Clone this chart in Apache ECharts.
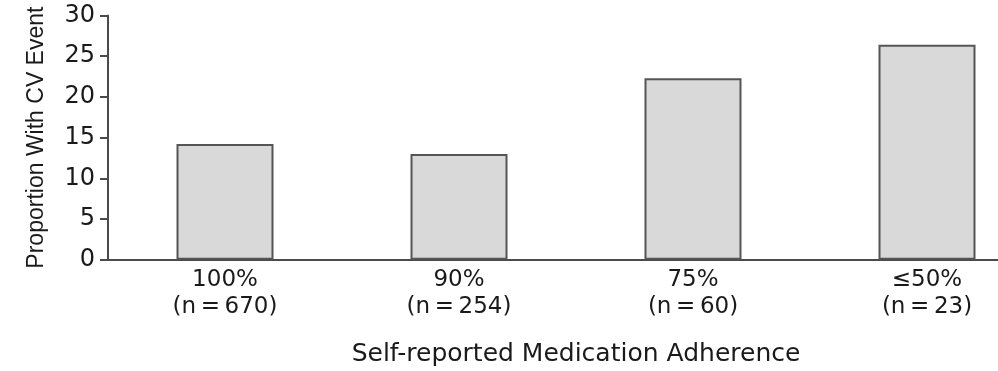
<!DOCTYPE html>
<html>
<head>
<meta charset="utf-8">
<script src="https://cdn.jsdelivr.net/npm/echarts@6/dist/echarts.min.js"></script>
<style>html,body{margin:0;padding:0;background:#fff;}#c{width:998px;height:371px;}</style>
</head>
<body>
<div id="c"></div>
<script>
const categories = ['100%', '90%', '75%', '\u226450%'];
const sampleSizes = ['670', '254', '60', '23'];
const proportions = [14.2, 13.0, 22.3, 26.4];
const yTicks = [0, 5, 10, 15, 20, 25, 30];

const FONT = '"DejaVu Sans", sans-serif';
const chart = echarts.init(document.getElementById('c'), null, {renderer: 'canvas'});
const labels = categories.map((c, i) => c + '\n(n\u2009=\u2009' + sampleSizes[i] + ')');
chart.setOption({
  animation: false,
  backgroundColor: '#fff',
  grid: {left: 108, top: 15.5, width: 936, height: 244.2, containLabel: false, outerBoundsMode: 'none'},
  xAxis: {
    type: 'category',
    data: labels,
    boundaryGap: true,
    axisLine: {show: true, lineStyle: {color: '#4a4a4a', width: 2}},
    axisTick: {show: false},
    axisLabel: {color: '#1a1a1a', fontFamily: FONT, fontSize: 23, lineHeight: 27, margin: 7},
    name: 'Self-reported Medication Adherence',
    nameLocation: 'middle',
    nameGap: 82,
    nameTextStyle: {color: '#1a1a1a', fontFamily: FONT, fontSize: 25, verticalAlign: 'top'}
  },
  yAxis: {
    type: 'value',
    min: yTicks[0],
    max: yTicks[yTicks.length - 1],
    interval: 5,
    splitLine: {show: false},
    axisLine: {show: true, lineStyle: {color: '#4a4a4a', width: 2}},
    axisTick: {show: true, length: 8, lineStyle: {color: '#4a4a4a', width: 2}},
    axisLabel: {color: '#1a1a1a', fontFamily: FONT, fontSize: 24, margin: 13},
    name: 'Proportion With CV Event',
    nameLocation: 'middle',
    nameGap: 60,
    nameTextStyle: {color: '#1a1a1a', fontFamily: '"Liberation Sans", Arial, sans-serif', fontSize: 23}
  },
  series: [{
    type: 'bar',
    data: proportions,
    barWidth: 97,
    itemStyle: {color: '#d9d9d9', borderColor: '#555', borderWidth: 2}
  }]
});
</script>
</body>
</html>
